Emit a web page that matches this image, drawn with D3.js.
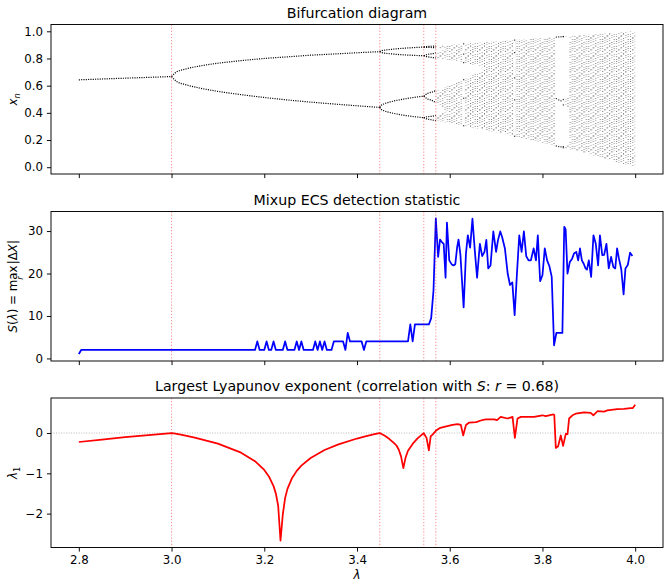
<!DOCTYPE html>
<meta charset="utf-8">
<style>
body { margin: 0; background: #fff; }
svg { font-family: "DejaVu Sans", sans-serif; }
.tick text { font-size: 11.8px; fill: #000; font-family: "DejaVu Sans", sans-serif; }
.tick line { stroke: #000; stroke-width: 0.95; }
.title { font-size: 14.2px; text-anchor: middle; }
.lab { font-size: 11.8px; text-anchor: middle; }
.branch { fill: none; stroke: #000; stroke-width: 1.2; stroke-dasharray: 1.1,1.22; }
.vline { stroke: #ff0000; stroke-opacity: 0.42; stroke-width: 1.1; stroke-dasharray: 1.2,1.9; }
</style>
<svg width="671" height="588"></svg>
<script src="https://d3js.org/d3.v7.min.js"></script>
<script>

// ---- bifurcation: periodic branches (lambda knots, x values) ----
var lamP1 = [2.8, 2.85, 2.9, 2.95, 3.0];
var p1 = [0.643, 0.649, 0.655, 0.661, 0.667];

var lamP2 = [3.0, 3.01, 3.03, 3.06, 3.1, 3.15, 3.2, 3.25, 3.3, 3.35, 3.4, 3.449];
var p2Up = [0.667, 0.699, 0.722, 0.744, 0.765, 0.784, 0.800, 0.812, 0.824, 0.833, 0.842, 0.850];
var p2Lo = [0.667, 0.633, 0.608, 0.583, 0.558, 0.534, 0.513, 0.495, 0.479, 0.465, 0.452, 0.440];

var lamP4 = [3.449, 3.452, 3.46, 3.475, 3.5, 3.52, 3.544];
var p4 = [
  [0.850, 0.8558, 0.8614, 0.8676, 0.8750, 0.8795, 0.884],
  [0.850, 0.8442, 0.8391, 0.8334, 0.8269, 0.8233, 0.820],
  [0.440, 0.4545, 0.4682, 0.4834, 0.5009, 0.5122, 0.5225],
  [0.440, 0.4259, 0.4134, 0.3992, 0.3828, 0.3733, 0.364]
];

var lamP8 = [3.544, 3.552, 3.56, 3.5699];
var p8 = [
  [0.884, 0.888, 0.890, 0.8925],
  [0.884, 0.8815, 0.8808, 0.8784],
  [0.820, 0.8127, 0.8085, 0.8039],
  [0.820, 0.8304, 0.8335, 0.8422],
  [0.5225, 0.5427, 0.551, 0.5628],
  [0.5225, 0.5024, 0.494, 0.4745],
  [0.364, 0.354, 0.349, 0.3425],
  [0.364, 0.3717, 0.374, 0.3813]
];

// ---- bifurcation: chaotic bands (lambda knots, lower / upper edge) ----
var lamB4 = [3.5699, 3.58, 3.5925];
var b4Lo = [[0.8784, 0.8751, 0.8688], [0.8039, 0.7992, 0.7927], [0.4745, 0.4497, 0.4097], [0.3425, 0.3364, 0.3287]];
var b4Hi = [[0.8925, 0.8950, 0.8981], [0.8422, 0.8527, 0.8687], [0.5628, 0.5745, 0.5904], [0.3813, 0.3913, 0.4095]];

var lamB2a = [3.5925, 3.6, 3.62, 3.6285];
var b2aLo = [[0.7927, 0.7885, 0.776, 0.7702], [0.3287, 0.324, 0.3112, 0.3058]];
var b2aHi = [[0.8981, 0.9, 0.905, 0.9071], [0.5904, 0.6004, 0.6292, 0.6423]];

var lamB2b = [3.6315, 3.64, 3.66, 3.6786];
var b2bLo = [[0.7680, 0.7616, 0.7453, 0.7281], [0.3038, 0.2981, 0.2847, 0.2718]];
var b2bHi = [[0.9079, 0.91, 0.915, 0.9197], [0.6470, 0.6609, 0.6948, 0.7282]];

var lamB1a = [3.6786, 3.69, 3.70, 3.72, 3.7385];
var b1aLo = [0.2718, 0.2638, 0.2567, 0.2422, 0.2284];
var b1aHi = [0.9197, 0.9225, 0.925, 0.93, 0.9346];

var lamB1b = [3.7415, 3.76, 3.78, 3.80, 3.8276];
var b1bLo = [0.2262, 0.2121, 0.1965, 0.1805, 0.1579];
var b1bHi = [0.9354, 0.94, 0.945, 0.95, 0.9569];

var lamB3 = [3.8475, 3.8575];
var b3Lo = [[0.959, 0.955], [0.455, 0.43], [0.140, 0.1325]];
var b3Hi = [[0.962, 0.9644], [0.50, 0.53], [0.155, 0.165]];

var lamB1c = [3.8575, 3.88, 3.9, 3.92, 3.94, 3.96, 3.98, 4.0];
var b1cLo = [0.1325, 0.1129, 0.0951, 0.0768, 0.0582, 0.0392, 0.0198, 0.0];
var b1cHi = [0.9644, 0.97, 0.975, 0.98, 0.985, 0.99, 0.995, 1.0];

// periodic windows inside the chaos
var winLam = [3.63, 3.74, 3.83, 3.835, 3.84, 3.845];
var winPts = [
  [0.9074, 0.8320, 0.7695, 0.6440, 0.5075, 0.3050],
  [0.935, 0.8429, 0.6569, 0.4953, 0.2273],
  [0.9574, 0.5048, 0.1562],
  [0.9587, 0.495, 0.152],
  [0.9594, 0.4885, 0.1496],
  [0.9615, 0.9605, 0.498, 0.458, 0.152, 0.143]
];

// ---- detection statistic S ----
var lamS = [2.8, 2.805, 3.18, 3.185, 3.19, 3.2, 3.205, 3.21, 3.215, 3.22, 3.225, 3.24, 3.245, 3.25,
  3.265, 3.27, 3.275, 3.28, 3.285, 3.305, 3.31, 3.315, 3.32, 3.325, 3.33, 3.335, 3.345, 3.35,
  3.37, 3.375, 3.38, 3.385, 3.41, 3.415, 3.42, 3.51, 3.515, 3.52, 3.525, 3.555, 3.56, 3.565, 3.57,
  3.575, 3.579, 3.583, 3.587, 3.591, 3.594, 3.599, 3.604, 3.608, 3.612, 3.616, 3.619, 3.623, 3.630,
  3.635, 3.639, 3.644, 3.649, 3.654, 3.659, 3.665, 3.670, 3.675, 3.679, 3.683, 3.688, 3.694, 3.700,
  3.704, 3.709, 3.713, 3.719, 3.725, 3.730, 3.735, 3.740, 3.745, 3.750, 3.755, 3.760, 3.765, 3.770,
  3.775, 3.781, 3.786, 3.790, 3.795, 3.800, 3.805, 3.810, 3.815, 3.820, 3.825, 3.830, 3.835, 3.843,
  3.847, 3.850, 3.854, 3.859, 3.864, 3.868, 3.873, 3.877, 3.881, 3.885, 3.889, 3.893, 3.896, 3.900,
  3.905, 3.910, 3.915, 3.920, 3.924, 3.929, 3.933, 3.938, 3.943, 3.948, 3.953, 3.957, 3.961, 3.965,
  3.970, 3.975, 3.979, 3.984, 3.989, 3.994, 4.0];
var S = [1, 2, 2, 4, 2, 2, 4, 2, 2, 4, 2, 2, 4, 2,
  2, 4, 2, 4, 2, 2, 4, 2, 4, 2, 4, 2, 2, 4,
  4, 2, 6, 4, 4, 2, 4, 4, 8, 4, 8, 8, 9.5, 16, 33,
  23.9, 28, 27.4, 27, 19, 32, 23.1, 22.2, 21.9, 22.2, 26.2, 28, 24.5, 12,
  24.7, 29, 26.1, 32.9, 25.5, 19, 27, 24.1, 25.1, 27.9, 21.2, 21.9, 29.9, 25.1,
  27.8, 29.9, 28.6, 25.9, 20, 17.3, 17.9, 10.2, 20, 29, 25.1, 29.9, 24.1, 23.1,
  23.1, 25.9, 23.1, 29, 18.2, 19.6, 25.9, 23.1, 21.7, 19.2, 3.1, 6, 6,
  6, 31, 30.4, 20, 22.7, 23.5, 24.7, 25.1, 23.1, 25.9, 23.1, 22.3, 21.2, 20.9,
  23.1, 19.2, 29, 27, 21.9, 29, 24.3, 24.4, 27, 21.2, 23.9, 21.5, 21.2, 25.9,
  23.5, 21, 15.1, 21.2, 22, 24.9, 24.1];

// ---- largest Lyapunov exponent ----
var lamL = [2.8, 2.85, 2.9, 2.95, 3.0, 3.005, 3.02, 3.05, 3.1, 3.15, 3.18, 3.2, 3.21, 3.22, 3.225, 3.23,
  3.235, 3.24, 3.245, 3.25, 3.26, 3.27, 3.28, 3.3, 3.33, 3.36, 3.4, 3.42, 3.44, 3.449,
  3.46, 3.47, 3.48, 3.485, 3.49, 3.495, 3.5, 3.505, 3.51, 3.52, 3.53, 3.54, 3.544, 3.55, 3.555,
  3.559, 3.563, 3.5705, 3.578, 3.588, 3.606, 3.617, 3.624, 3.629, 3.635, 3.642, 3.657, 3.667,
  3.6745, 3.68, 3.696, 3.702, 3.710, 3.7247, 3.7355, 3.7405, 3.7462, 3.7534, 3.782, 3.80, 3.807,
  3.8144, 3.823, 3.8255, 3.8288, 3.8338, 3.8395, 3.8445, 3.8503, 3.854, 3.8575, 3.8647, 3.8718,
  3.8897, 3.904, 3.9098, 3.9184, 3.9328, 3.94, 3.9615, 3.9758, 3.99, 3.995, 4.0];
var lyap = [-0.223, -0.162, -0.105, -0.051, -0.003, -0.010, -0.042, -0.113, -0.264, -0.487, -0.698, -0.916, -1.077, -1.318, -1.504, -1.804,
  -2.672, -2.02, -1.609, -1.386, -1.115, -0.939, -0.809, -0.619, -0.423, -0.281, -0.137, -0.078, -0.024, -0.002,
  -0.07, -0.15, -0.25, -0.31, -0.41, -0.58, -0.87, -0.6, -0.44, -0.27, -0.14, -0.04, -0.005, -0.12, -0.43,
  -0.08, -0.04, 0.06, 0.12, 0.15, 0.2, 0.22, 0.2, -0.06, 0.2, 0.26, 0.27, 0.31,
  0.33, 0.34, 0.34, 0.32, 0.40, 0.36, 0.40, -0.12, 0.36, 0.40, 0.40, 0.44, 0.42,
  0.44, 0.46, 0.45, -0.37, -0.33, -0.06, -0.32, -0.02, -0.03, 0.36, 0.44, 0.48,
  0.51, 0.50, 0.44, 0.54, 0.53, 0.56, 0.59, 0.60, 0.62, 0.62, 0.70];

var bifurcations = [3.0, 3.449, 3.544, 3.5699];
var xTicks = [2.8, 3.0, 3.2, 3.4, 3.6, 3.8, 4.0];

var svg = d3.select("svg"),
    left = 51, right = 663,
    tops = [24.5, 211.5, 398], ph = 149.5;

function padded(ext) {
  var p = (ext[1] - ext[0]) * 0.05;
  return [ext[0] - p, ext[1] + p];
}

var x = d3.scaleLinear().domain(padded([2.8, 4.0])).range([left, right]);
var y1 = d3.scaleLinear().domain(padded([0, 1])).range([tops[0] + ph, tops[0]]);
var y2 = d3.scaleLinear().domain(padded(d3.extent(S))).range([tops[1] + ph, tops[1]]);
var y3 = d3.scaleLinear().domain(padded(d3.extent(lyap))).range([tops[2] + ph, tops[2]]);

var defs = svg.append("defs");
tops.forEach(function(t, i) {
  defs.append("clipPath").attr("id", "clip" + i)
    .append("rect").attr("x", left).attr("y", t).attr("width", right - left).attr("height", ph);
});

// dotted texture for the chaotic bands, one dot column per lambda step
var colW = x(2.805) - x(2.8);
var pat = defs.append("pattern").attr("id", "chaos").attr("patternUnits", "userSpaceOnUse")
    .attr("x", x(3.57) - 0.5).attr("y", 0).attr("width", 6 * colW).attr("height", 20);
var patCols = [
  [1, 3, 6, 8, 11, 14, 16, 19],
  [0, 2, 5, 9, 10, 13, 17, 18],
  [1, 4, 7, 8, 12, 15, 16, 19],
  [0, 3, 5, 6, 10, 13, 14, 18],
  [2, 4, 7, 9, 11, 12, 15, 17],
  [1, 3, 6, 8, 10, 14, 16, 19]
];
var patOp = [0.5, 0.3, 0.45, 0.35, 0.55, 0.3, 0.4, 0.5];
patCols.forEach(function(rows, c) {
  pat.selectAll(null).data(rows).join("rect")
    .attr("x", c * colW)
    .attr("y", function(d) { return d; })
    .attr("width", 1).attr("height", 1)
    .attr("fill", "#000")
    .attr("fill-opacity", function(d, k) { return patOp[(k + c) % patOp.length]; });
});

// ---------- panel 1: bifurcation diagram ----------
var g1 = svg.append("g").attr("clip-path", "url(#clip0)");

var branchLine = d3.line().x(function(d) { return x(d[0]); }).y(function(d) { return y1(d[1]); })
    .curve(d3.curveMonotoneX);
function branches(lams, rows) {
  rows.forEach(function(row) {
    g1.append("path").attr("class", "branch")
      .attr("d", branchLine(lams.map(function(l, i) { return [l, row[i]]; })));
  });
}
branches(lamP1, [p1]);
branches(lamP2, [p2Up, p2Lo]);
branches(lamP4, p4);
branches(lamP8, p8);

var band = d3.area().x(function(d) { return x(d[0]); })
    .y0(function(d) { return y1(d[1]); }).y1(function(d) { return y1(d[2]); });
function bands(lams, los, his) {
  g1.append("path").attr("fill", "url(#chaos)")
    .attr("d", band(lams.map(function(l, i) { return [l, los[i], his[i]]; })));
}
b4Lo.forEach(function(lo, k) { bands(lamB4, lo, b4Hi[k]); });
b2aLo.forEach(function(lo, k) { bands(lamB2a, lo, b2aHi[k]); });
b2bLo.forEach(function(lo, k) { bands(lamB2b, lo, b2bHi[k]); });
bands(lamB1a, b1aLo, b1aHi);
bands(lamB1b, b1bLo, b1bHi);
b3Lo.forEach(function(lo, k) { bands(lamB3, lo, b3Hi[k]); });
bands(lamB1c, b1cLo, b1cHi);

winLam.forEach(function(l, i) {
  g1.selectAll(null).data(winPts[i]).join("rect")
    .attr("x", x(l) - 0.6).attr("y", function(d) { return y1(d) - 0.6; })
    .attr("width", 1.2).attr("height", 1.2).attr("fill", "#000").attr("fill-opacity", 0.8);
});

// ---------- panel 2: detection statistic ----------
svg.append("g").attr("clip-path", "url(#clip1)").append("path")
    .datum(lamS.map(function(l, i) { return [l, S[i]]; }))
    .attr("fill", "none").attr("stroke", "#0000ff").attr("stroke-width", 1.75)
    .attr("stroke-linejoin", "round")
    .attr("d", d3.line().x(function(d) { return x(d[0]); }).y(function(d) { return y2(d[1]); }));

// ---------- panel 3: Lyapunov exponent ----------
var g3 = svg.append("g").attr("clip-path", "url(#clip2)");
g3.append("line").attr("x1", left).attr("x2", right).attr("y1", y3(0)).attr("y2", y3(0))
    .attr("stroke", "gray").attr("stroke-opacity", 0.6).attr("stroke-width", 0.95)
    .attr("stroke-dasharray", "0.95,1.57");
g3.append("path")
    .datum(lamL.map(function(l, i) { return [l, lyap[i]]; }))
    .attr("fill", "none").attr("stroke", "#ff0000").attr("stroke-width", 1.75)
    .attr("stroke-linejoin", "round")
    .attr("d", d3.line().x(function(d) { return x(d[0]); }).y(function(d) { return y3(d[1]); }));

// bifurcation markers + frames
var ys = [y1, y2, y3],
    yTicks = [[0, 0.2, 0.4, 0.6, 0.8, 1.0], [0, 10, 20, 30], [-2, -1, 0]],
    yFmt = [d3.format(".1f"), d3.format("d"), d3.format("d")];

tops.forEach(function(t, i) {
  var g = svg.append("g");
  g.selectAll(".vline").data(bifurcations).join("line").attr("class", "vline")
    .attr("x1", function(d) { return x(d); }).attr("x2", function(d) { return x(d); })
    .attr("y1", t).attr("y2", t + ph);

  var ax = g.append("g").attr("transform", "translate(0," + (t + ph) + ")")
    .call(d3.axisBottom(x).tickValues(xTicks).tickSize(4.1).tickPadding(3.8)
      .tickFormat(i === 2 ? d3.format(".1f") : function() { return ""; }));
  ax.select(".domain").remove();

  var ay = g.append("g").attr("transform", "translate(" + left + ",0)")
    .call(d3.axisLeft(ys[i]).tickValues(yTicks[i]).tickSize(4.1).tickPadding(4).tickFormat(yFmt[i]));
  ay.select(".domain").remove();

  g.append("rect").attr("x", left).attr("y", t).attr("width", right - left).attr("height", ph)
    .attr("fill", "none").attr("stroke", "#000").attr("stroke-width", 0.95);
});

// titles
var cx = (left + right) / 2;
svg.append("text").attr("class", "title").attr("x", cx).attr("y", tops[0] - 7).text("Bifurcation diagram");
svg.append("text").attr("class", "title").attr("x", cx).attr("y", tops[1] - 7).text("Mixup ECS detection statistic");
var t3 = svg.append("text").attr("class", "title").attr("x", cx).attr("y", tops[2] - 7);
t3.append("tspan").text("Largest Lyapunov exponent (correlation with ");
t3.append("tspan").attr("font-style", "italic").text("S");
t3.append("tspan").text(": ");
t3.append("tspan").attr("font-style", "italic").text("r");
t3.append("tspan").text(" = 0.68)");

// axis labels
function ylab(i) {
  return svg.append("text").attr("class", "lab")
    .attr("transform", "translate(17," + (tops[i] + ph / 2) + ") rotate(-90)");
}
var l1 = ylab(0);
l1.append("tspan").attr("font-style", "italic").text("x");
l1.append("tspan").attr("font-style", "italic").attr("font-size", "8.3px").attr("dy", 2.5).text("n");

var l2 = ylab(1);
l2.append("tspan").attr("font-style", "italic").text("S");
l2.append("tspan").text("(");
l2.append("tspan").attr("font-style", "italic").text("λ");
l2.append("tspan").text(") = max");
l2.append("tspan").attr("font-style", "italic").attr("font-size", "8.3px").attr("dx", -14).attr("dy", 5.5).text("r");
l2.append("tspan").attr("dx", 12).attr("dy", -5.5).text("|Δ");
l2.append("tspan").attr("font-style", "italic").text("X");
l2.append("tspan").text("|");

var l3 = ylab(2);
l3.append("tspan").attr("font-style", "italic").text("λ");
l3.append("tspan").attr("font-size", "8.3px").attr("dy", 2.5).text("1");

svg.append("text").attr("class", "lab").attr("x", cx).attr("y", tops[2] + ph + 31)
    .attr("font-style", "italic").text("λ");

</script>
